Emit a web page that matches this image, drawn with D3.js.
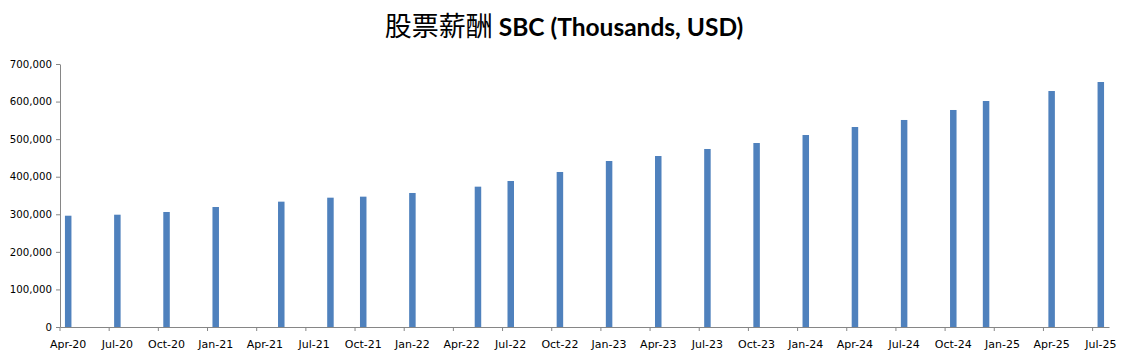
<!DOCTYPE html>
<html>
<head>
<meta charset="utf-8">
<script src="https://cdn.jsdelivr.net/npm/d3@7"></script>
<style>
  body { margin: 0; background: #fff; }
  .axis text { font-family: "DejaVu Sans", sans-serif; fill: #000; }
  .axis path, .axis line { stroke: #868686; }
</style>
</head>
<body>
<div id="chart"></div>
<script>
// data: month of each report (bars) and SBC in thousands USD
var months = ["2020-04", "2020-07", "2020-10", "2021-01", "2021-05", "2021-08", "2021-10",
  "2022-01", "2022-05", "2022-07", "2022-10", "2023-01", "2023-04", "2023-07", "2023-10",
  "2024-01", "2024-04", "2024-07", "2024-10", "2024-12", "2025-04", "2025-07"];
var sbc = [296200, 298900, 306100, 319400, 333600, 344200, 346900,
  356700, 373500, 388600, 412600, 441800, 455100, 473800, 489700,
  511000, 532300, 551000, 577600, 601500, 628100, 652100];
var yTicks = [0, 100000, 200000, 300000, 400000, 500000, 600000, 700000];

var W = 1129, H = 357;
var margin = {top: 64, right: 20, bottom: 30, left: 60},
    width = 1109 - margin.left,
    height = 327 - margin.top;

var svg = d3.select("#chart").append("svg")
    .attr("width", W)
    .attr("height", H);

// title
var title = svg.append("text")
    .attr("x", 564)
    .attr("y", 36)
    .attr("text-anchor", "middle");
title.append("tspan")
    .style("font-family", "'Noto Sans CJK SC', sans-serif")
    .style("font-size", "27px")
    .text("股票薪酬 ");
title.append("tspan")
    .style("font-family", "Lato, sans-serif")
    .style("font-weight", "bold")
    .style("font-size", "24.5px")
    .text("SBC (Thousands, USD)");

var g = svg.append("g")
    .attr("transform", "translate(" + margin.left + "," + margin.top + ")");

// month slots Apr-20 .. Jul-25 (excel date axis, base unit months)
var parse = d3.timeParse("%Y-%m");
var allMonths = d3.timeMonth.range(parse("2020-04"), parse("2025-08"));
var fmtKey = d3.timeFormat("%Y-%m");
var xScale = d3.scaleBand()
    .domain(allMonths.map(fmtKey))
    .range([0, width]);

var yScale = d3.scaleLinear()
    .domain([0, 700000])
    .range([height, 0]);

// y axis
g.append("g")
    .attr("class", "axis")
    .call(d3.axisLeft(yScale)
      .tickValues(yTicks)
      .tickFormat(d3.format(","))
      .tickSize(4)
      .tickSizeOuter(0)
      .tickPadding(4))
    .selectAll("text").style("font-size", "10.2px");

// x axis: labels every 3 months centered on slot, ticks on slot boundaries
var labelMonths = allMonths.filter(function(d, i) { return i % 3 === 0; }).map(fmtKey);
var xAxis = g.append("g")
    .attr("class", "axis")
    .attr("transform", "translate(0," + height + ")")
    .call(d3.axisBottom(xScale)
      .tickValues(labelMonths)
      .tickFormat(function(d) { return d3.timeFormat("%b-%y")(parse(d)); })
      .tickSize(0)
      .tickSizeOuter(0)
      .tickPadding(13));
xAxis.selectAll("text").style("font-size", "11px");
xAxis.selectAll(".tick-mark")
    .data(labelMonths)
    .enter().append("line")
    .attr("class", "tick-mark")
    .attr("x1", function(d) { return xScale(d); })
    .attr("x2", function(d) { return xScale(d); })
    .attr("y1", 0)
    .attr("y2", 4)
    .attr("stroke", "#868686");

// bars
var barW = 6.5;
g.selectAll(".bar")
    .data(months)
    .enter().append("rect")
    .attr("class", "bar")
    .attr("x", function(d) { return xScale(d) + xScale.bandwidth() / 2 - barW / 2; })
    .attr("width", barW)
    .attr("y", function(d, i) { return yScale(sbc[i]); })
    .attr("height", function(d, i) { return height - yScale(sbc[i]); })
    .attr("fill", "#4F81BD");
</script>
</body>
</html>
